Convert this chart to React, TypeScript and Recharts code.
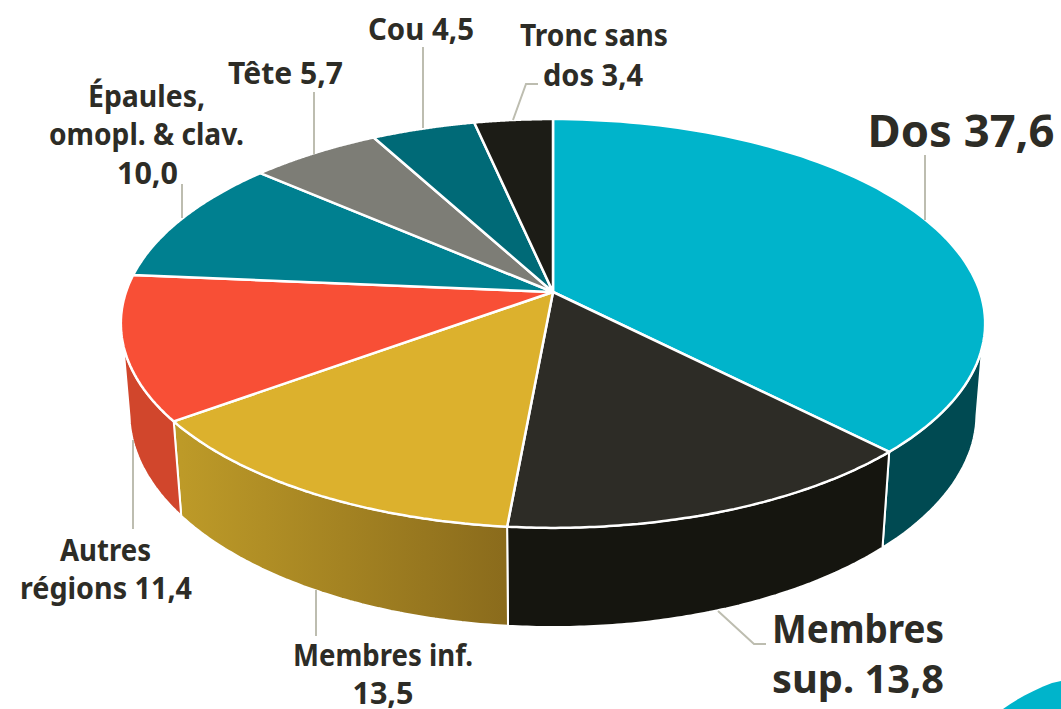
import { Pie, PieChart } from "recharts"

const categories = [
  "Dos",
  "Membres sup.",
  "Membres inf.",
  "Autres régions",
  "Épaules, omopl. & clav.",
  "Tête",
  "Cou",
  "Tronc sans dos",
]
const values = [37.6, 13.8, 13.5, 11.4, 10.0, 5.7, 4.5, 3.4]
const labelLines = [
  ["Dos 37,6"],
  ["Membres", "sup. 13,8"],
  ["Membres inf.", "13,5"],
  ["Autres", "régions 11,4"],
  ["Épaules,", "omopl. & clav.", "10,0"],
  ["Tête 5,7"],
  ["Cou 4,5"],
  ["Tronc sans", "dos 3,4"],
]

const topFills = ["#00b4cb", "#2d2c26", "#dcb12d", "#f84f36", "#008090", "#7d7d76", "#006a77", "#1c1c16"]
const wallFills = ["#004a52", "#15150f", "url(#wallGold)", "#d1462c", "#005a66", "#55554f", "#004a52", "#10100c"]

// where each label sits: font size, [centre x, baseline y, width] per line, leader polyline
const labelLayout: { size: number; lines: number[][]; leader: string }[] = [
  { size: 44, lines: [[961, 147, 187]], leader: "925,155 925,220" },
  { size: 40, lines: [[858, 643, 172], [858, 693, 172]], leader: "718,611 754,644 766,644" },
  { size: 30, lines: [[383, 666, 180], [383, 704, 61]], leader: "316,590 316,636" },
  { size: 30, lines: [[105.5, 561, 91], [106, 599, 172]], leader: "133,440 133,529" },
  { size: 30, lines: [[146.5, 107, 117], [146.5, 145, 195], [147.5, 184, 61]], leader: "182,184 182,218" },
  { size: 30, lines: [[285.5, 84, 115]], leader: "314,92 314,154" },
  { size: 30, lines: [[421, 40, 106]], leader: "423,47 423,128" },
  { size: 30, lines: [[594, 46, 148], [593, 86, 100]], leader: "538,84 526,84 513,120" },
]

const chartData = categories.map((name, i) => ({ name, value: values[i], fill: topFills[i] }))

// perspective of the disc, fitted on the slice corners of the picture
const TILT = 0.154
const TOP_Y = 0.362
const BOTTOM_X = 0.98
const BOTTOM_Y = 0.351
const DEPTH = 88.6

type SliceProps = { cx: number; cy: number; outerRadius: number; startAngle: number; endAngle: number; fill: string; name: string }

function project(p: SliceProps, deg: number, bottom: boolean) {
  const a = (deg * Math.PI) / 180
  const u = Math.cos(a)
  const v = -Math.sin(a)
  const w = 1 - TILT * v
  const r = p.outerRadius
  return {
    v,
    x: p.cx + ((bottom ? BOTTOM_X : 1) * r * u) / w,
    y: bottom ? (BOTTOM_Y * r * v + p.cy + DEPTH) / w : (TOP_Y * r * v + p.cy) / w,
  }
}

function Slice(p: SliceProps) {
  const steps = 90
  const angles = Array.from({ length: steps + 1 }, (_, i) => p.startAngle + ((p.endAngle - p.startAngle) * i) / steps)
  const rim = angles.map((a) => project(p, a, false))
  const base = angles.map((a) => project(p, a, true))
  const wallTop = rim.filter((q) => q.v >= 0.25)
  const wallBase = base.filter((q) => q.v >= 0.16).reverse()
  const toD = (pts: { x: number; y: number }[]) => pts.map((q) => `${q.x.toFixed(1)},${q.y.toFixed(1)}`).join(" L")
  const wallFill = wallFills[categories.indexOf(p.name)]

  return (
    <g>
      {wallTop.length > 1 && wallBase.length > 1 && (
        <path d={`M${toD([...wallTop, ...wallBase])} Z`} fill={wallFill} stroke="#fff" strokeWidth={2} strokeLinejoin="round" />
      )}
      <path d={`M${p.cx},${p.cy} L${toD(rim)} Z`} fill={p.fill} stroke="#fff" strokeWidth={2.5} strokeLinejoin="round" />
    </g>
  )
}

function SliceLabel(p: { name: string }) {
  const i = categories.indexOf(p.name)
  const layout = labelLayout[i]
  return (
    <g>
      <polyline points={layout.leader} fill="none" stroke="#bdbdb0" strokeWidth={2} />
      {labelLines[i].map((line, k) => (
        <text
          key={line}
          x={layout.lines[k][0]}
          y={layout.lines[k][1]}
          textAnchor="middle"
          textLength={layout.lines[k][2]}
          lengthAdjust="spacingAndGlyphs"
          fontFamily='"Noto Sans", sans-serif'
          fontWeight={700}
          fontSize={layout.size}
          fill="#2d2c26"
        >
          {line}
        </text>
      ))}
    </g>
  )
}

export default function App() {
  return (
    <div style={{ position: "absolute", left: 0, top: 0, width: 1061, height: 709, background: "#fff" }}>
      <PieChart width={1061} height={709} margin={{ top: 0, right: 0, bottom: 0, left: 0 }}>
        <defs>
          <linearGradient id="wallGold" gradientUnits="userSpaceOnUse" x1={181} y1={0} x2={508} y2={0}>
            <stop offset="0%" stopColor="#bd9a28" />
            <stop offset="100%" stopColor="#8a6b1c" />
          </linearGradient>
        </defs>
        <Pie
          data={chartData}
          dataKey="value"
          nameKey="name"
          cx={553}
          cy={292}
          innerRadius={0}
          outerRadius={427}
          startAngle={90}
          endAngle={-270}
          stroke="none"
          shape={Slice as never}
          label={SliceLabel as never}
          labelLine={false}
          isAnimationActive={false}
        />
        <path d="M1003,709 C1018,698 1036,689 1052,683 L1061,681 L1061,709 Z" fill="#00b4cb" />
      </PieChart>
    </div>
  )
}
